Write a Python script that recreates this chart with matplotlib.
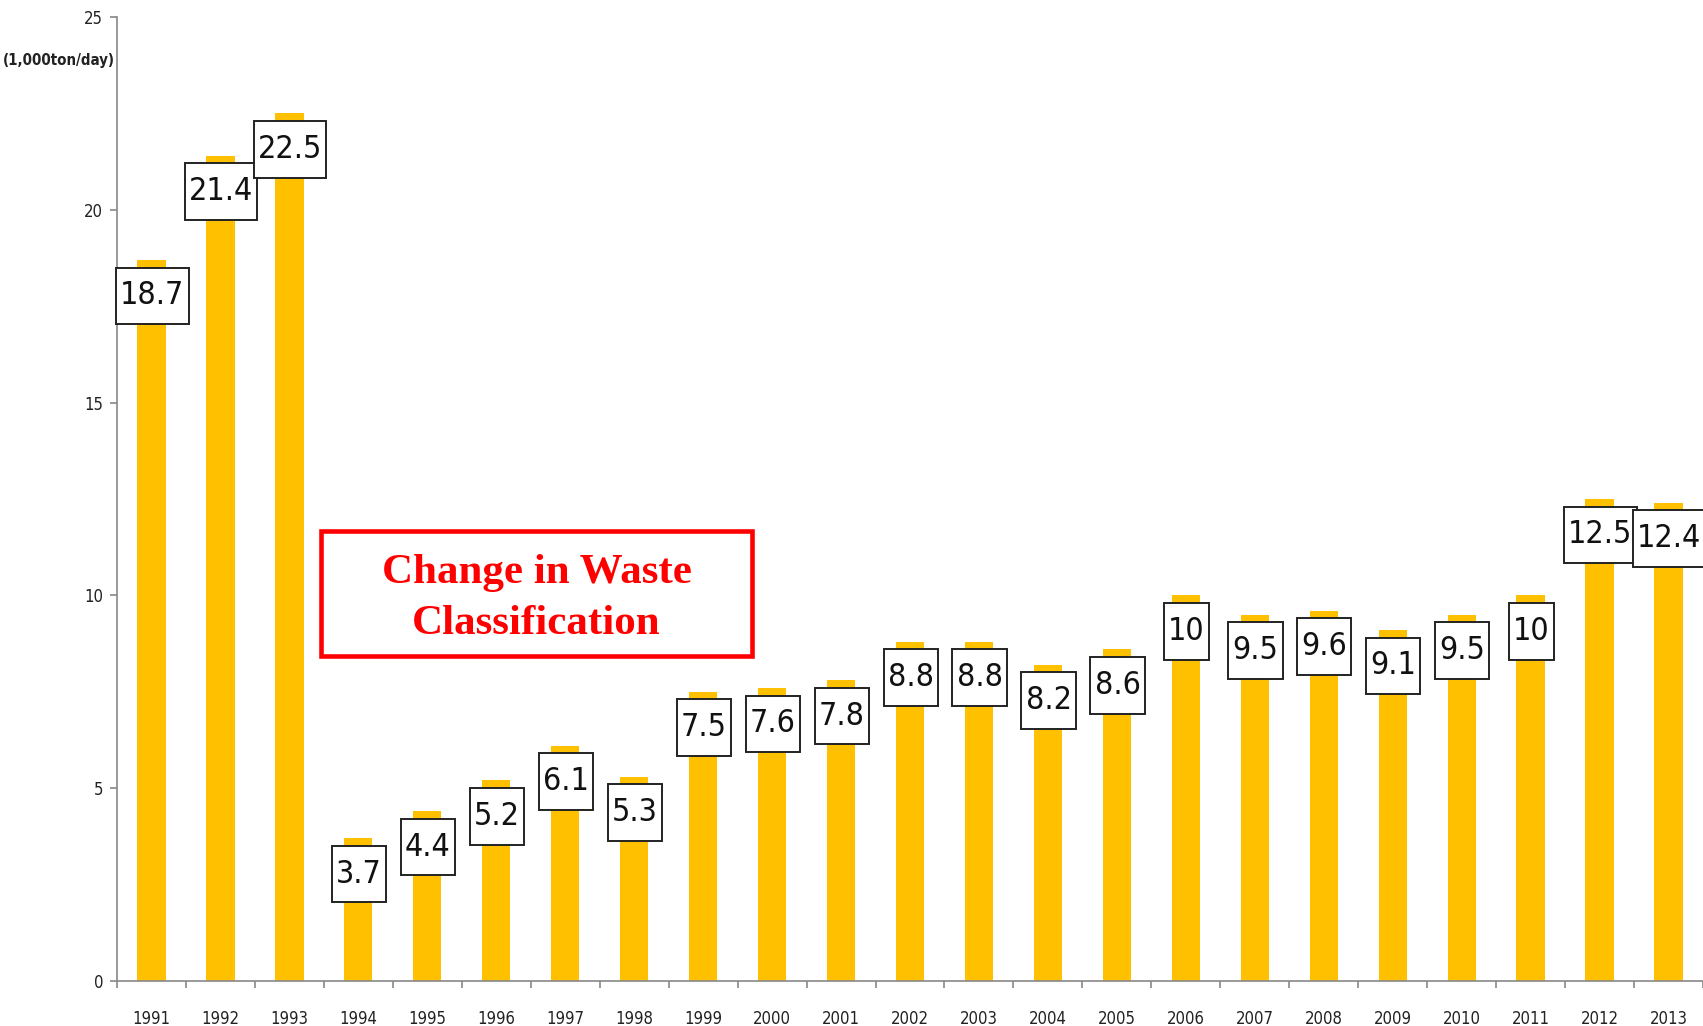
import matplotlib
matplotlib.use("Agg")
import matplotlib.pyplot as plt
from matplotlib.patches import Rectangle
from matplotlib.path import Path

# daily waste amounts by year
years = ['1991', '1992', '1993', '1994', '1995', '1996', '1997', '1998', '1999', '2000',
         '2001', '2002', '2003', '2004', '2005', '2006', '2007', '2008', '2009', '2010',
         '2011', '2012', '2013']
values = [18.7, 21.4, 22.5, 3.7, 4.4, 5.2, 6.1, 5.3, 7.5, 7.6,
          7.8, 8.8, 8.8, 8.2, 8.6, 10, 9.5, 9.6, 9.1, 9.5,
          10, 12.5, 12.4]
y_ticks = [0, 5, 10, 15, 20, 25]

plt.rcParams['font.family'] = ['DejaVu Sans']
plt.rcParams['font.stretch'] = 'condensed'


# label box: tight at the sides, roomy above and below
def label_box(x0, y0, width, height, mutation_size):
    px = 0.13 * mutation_size
    py = 0.40 * mutation_size
    x0, y0 = x0 - px, y0 - py
    x1, y1 = x0 + width + 2 * px, y0 + height + 2 * py
    return Path([(x0, y0), (x1, y0), (x1, y1), (x0, y1), (x0, y0)], closed=True)


fig = plt.figure(figsize=(17.03, 10.26), dpi=100)
ax = fig.add_axes([117 / 1703, 1 - 981 / 1026, 1 - 117 / 1703, (981 - 17) / 1026])

x = list(range(len(years)))
ax.bar(x, values, width=0.41, color='#FFC000', zorder=2)

# value labels in boxes just under the top of each bar
for xi, v in zip(x, values):
    ax.text(xi + 0.01, v - 0.93, f'{v:g}', ha='center', va='center', fontsize=23,
            color='#111111', zorder=3, clip_on=False,
            bbox=dict(boxstyle=label_box, facecolor='white',
                      edgecolor='#222222', linewidth=1.4))

ax.set_xlim(-0.5, len(years) - 0.5)
ax.set_ylim(0, 25)
ax.set_yticks(y_ticks)
ax.set_yticklabels([str(t) for t in y_ticks], fontsize=12, color='#222222')
ax.set_xticks(x)
ax.set_xticklabels(years, fontsize=12, color='#222222')
ax.set_xticks([i - 0.5 for i in range(len(years) + 1)], minor=True)
ax.tick_params(axis='x', which='major', length=0, pad=21)
ax.tick_params(axis='x', which='minor', length=5, color='#888888', width=1.2)
ax.tick_params(axis='y', length=5, color='#888888', width=1.2, pad=5)

for side in ['top', 'right']:
    ax.spines[side].set_visible(False)
for side in ['left', 'bottom']:
    ax.spines[side].set_color('#888888')
    ax.spines[side].set_linewidth(1.2)

fig.text(115 / 1703, 1 - 61 / 1026, '(1,000ton/day)', ha='right', va='center',
         fontsize=10.8, fontweight='bold', color='#222222')

# note about the reclassification after 1993
ax.add_patch(Rectangle((2.46, 8.43), 8.71 - 2.46, 11.68 - 8.43, fill=False,
                       edgecolor='#FF0000', linewidth=3.3, zorder=4))
ax.text((2.46 + 8.71) / 2, (8.43 + 11.68) / 2 - 0.13, 'Change in Waste\nClassification',
        ha='center', va='center', fontsize=31, fontweight='bold', color='#FF0000',
        family=['Liberation Serif', 'DejaVu Serif'], fontstretch='normal',
        linespacing=1.45, zorder=4)

fig.savefig('out.png', dpi=100)
